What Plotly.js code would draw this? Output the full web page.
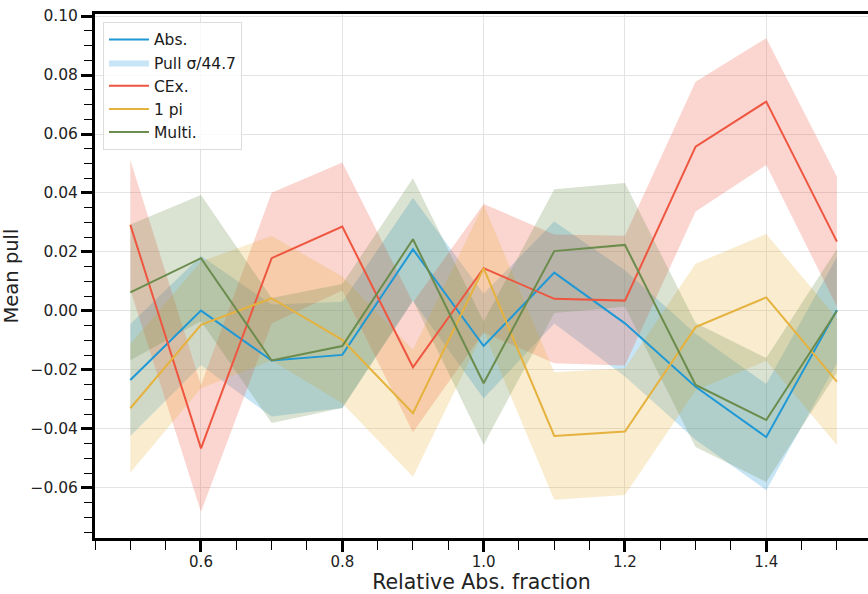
<!DOCTYPE html>
<html>
<head>
<meta charset="utf-8">
<script src="https://cdn.plot.ly/plotly-3.0.1.min.js"></script>
<style>
  html, body { margin: 0; padding: 0; background: #ffffff; }
  #chart { width: 868px; height: 594px; }
</style>
</head>
<body>
<div id="chart"></div>
<script>
// Relative Abs. fraction scan points
const fractions = [0.5, 0.6, 0.7, 0.8, 0.9, 1.0, 1.1, 1.2, 1.3, 1.4, 1.5];

// Mean pull per interaction channel
const absPull   = [-0.0234, 0.0001, -0.0168, -0.0149, 0.0209, -0.0119, 0.0130, -0.0042, -0.0257, -0.0428, 0.0003];
const cexPull   = [0.0292, -0.0466, 0.0179, 0.0286, -0.0191, 0.0145, 0.0041, 0.0035, 0.0557, 0.0710, 0.0235];
const onePiPull = [-0.0330, -0.0047, 0.0043, -0.0098, -0.0347, 0.0145, -0.0424, -0.0409, -0.0055, 0.0046, -0.0240];
const multiPull = [0.0063, 0.0179, -0.0168, -0.0119, 0.0243, -0.0245, 0.0203, 0.0224, -0.0251, -0.0370, 0.0000];

// Band half-widths (pull sigma / 44.7)
const absErr   = [0.0190, 0.0185, 0.0190, 0.0180, 0.0175, 0.0177, 0.0173, 0.0180, 0.0180, 0.0180, 0.0180];
const cexErr   = [0.0220, 0.0215, 0.0222, 0.0217, 0.0220, 0.0218, 0.0218, 0.0220, 0.0220, 0.0215, 0.0220];
const onePiErr = [0.0218, 0.0215, 0.0211, 0.0215, 0.0215, 0.0215, 0.0216, 0.0215, 0.0215, 0.0215, 0.0215];
const multiErr = [0.0230, 0.0214, 0.0212, 0.0210, 0.0207, 0.0209, 0.0210, 0.0210, 0.0210, 0.0210, 0.0210];

const seriesNames = ["Abs.", "CEx.", "1 pi", "Multi."];
const bandLabel = "Pull σ/44.7";

const lineColors = ["#1f98d6", "#ee5640", "#e6b23e", "#6b8c4c"];
const bandColors = ["rgba(31,152,214,0.25)", "rgba(238,86,64,0.25)", "rgba(230,178,62,0.25)", "rgba(107,140,76,0.25)"];

const pulls = [absPull, cexPull, onePiPull, multiPull];
const errs = [absErr, cexErr, onePiErr, multiErr];

const traces = [];

// shaded bands: upper edge forward, lower edge back
pulls.forEach((p, i) => {
  const upper = p.map((v, k) => v + errs[i][k]);
  const lower = p.map((v, k) => v - errs[i][k]);
  traces.push({
    x: fractions.concat(fractions.slice().reverse()),
    y: upper.concat(lower.slice().reverse()),
    type: "scatter",
    mode: "lines",
    fill: "toself",
    fillcolor: bandColors[i],
    line: { width: 0, color: bandColors[i] },
    hoverinfo: "skip",
    name: bandLabel,
    showlegend: i === 0,
    legendrank: 2
  });
});

// mean pull lines
const ranks = [1, 3, 4, 5];
pulls.forEach((p, i) => {
  traces.push({
    x: fractions,
    y: p,
    type: "scatter",
    mode: "lines",
    name: seriesNames[i],
    line: { color: lineColors[i], width: 2 },
    legendrank: ranks[i]
  });
});

const layout = {
  width: 868,
  height: 594,
  margin: { l: 95, r: 0, t: 14, b: 56 },
  paper_bgcolor: "#ffffff",
  plot_bgcolor: "#ffffff",
  font: { family: "DejaVu Sans, sans-serif", color: "#000000" },
  showlegend: true,
  legend: {
    x: 0.0103, y: 0.985, xanchor: "left", yanchor: "top",
    bgcolor: "rgba(255,255,255,0.8)",
    bordercolor: "#dcdcdc", borderwidth: 1,
    font: { size: 15.5, color: "#1a1a1a" },
    itemwidth: 40,
    traceorder: "normal"
  },
  xaxis: {
    range: [0.45, 1.544],
    tick0: 0, dtick: 0.2, tickformat: ".1f",
    ticks: "outside", ticklen: 11, tickwidth: 3, tickcolor: "#000000",
    tickfont: { size: 15, color: "#222222" },
    ticklabelstandoff: -3,
    showline: true, linecolor: "#000000", linewidth: 3, mirror: true,
    showgrid: true, gridcolor: "#e3e3e3", gridwidth: 1,
    zeroline: false,
    minor: { dtick: 0.05, ticks: "outside", ticklen: 9, tickwidth: 1, tickcolor: "#000000", showgrid: false },
    title: { text: "Relative Abs. fraction", font: { size: 20.5, color: "#222222" }, standoff: 2 }
  },
  yaxis: {
    range: [-0.077, 0.1007],
    tick0: 0, dtick: 0.02, tickformat: ".2f",
    ticks: "outside", ticklen: 11, tickwidth: 3, tickcolor: "#000000",
    tickfont: { size: 15.5, color: "#222222" },
    showline: true, linecolor: "#000000", linewidth: 3, mirror: false,
    showgrid: true, gridcolor: "#e3e3e3", gridwidth: 1,
    zeroline: false,
    minor: { dtick: 0.005, ticks: "outside", ticklen: 8, tickwidth: 1, tickcolor: "#000000", showgrid: false },
    title: { text: "Mean pull", font: { size: 19.5, color: "#222222" }, standoff: 12 }
  }
};

Plotly.newPlot("chart", traces, layout, { displayModeBar: false, staticPlot: true });
</script>
</body>
</html>
